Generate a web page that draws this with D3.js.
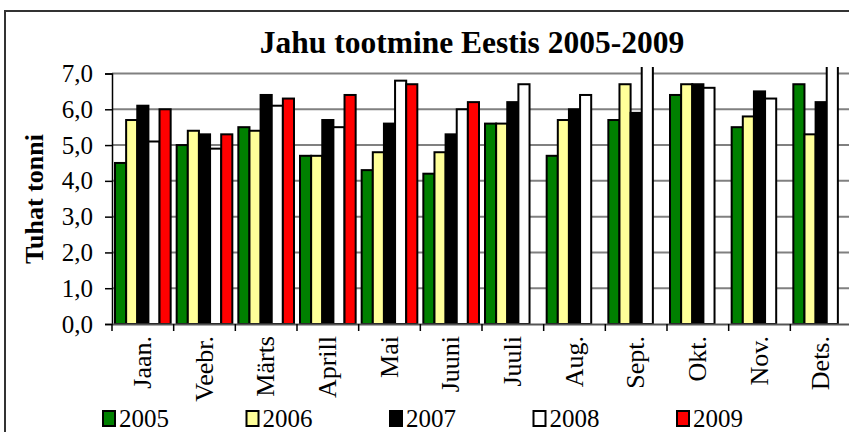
<!DOCTYPE html>
<html><head><meta charset="utf-8">
<script src="https://cdn.jsdelivr.net/npm/d3@7"></script>
<style>body{margin:0;background:#fff;}svg{display:block;}text{font-family:"Liberation Serif","Times New Roman",serif;}</style>
</head><body>
<svg id="c" width="849" height="432"></svg>
<script>
const months = ["Jaan.","Veebr.","Märts","Aprill","Mai","Juuni","Juuli","Aug.","Sept.","Okt.","Nov.","Dets."];
const years = ["2005","2006","2007","2008","2009"];
const colors = ["#008000","#FFFF99","#000000","#FFFFFF","#FF0000"];
const v2005 = [4.5,5.0,5.5,4.7,4.3,4.2,5.6,4.7,5.7,6.4,5.5,6.7];
const v2006 = [5.7,5.4,5.4,4.7,4.8,4.8,5.6,5.7,6.7,6.7,5.8,5.3];
const v2007 = [6.1,5.3,6.4,5.7,5.6,5.3,6.2,6.0,5.9,6.7,6.5,6.2];
const v2008 = [5.1,4.9,6.1,5.5,6.8,6.0,6.7,6.4,7.3,6.6,6.3,7.3];
const v2009 = [6.0,5.3,6.3,6.4,6.7,6.2,null,null,null,null,null,null];
const series = [v2005,v2006,v2007,v2008,v2009];
const yTicks = [0,1,2,3,4,5,6,7];
const title = "Jahu tootmine Eestis 2005-2009";
const yTitle = "Tuhat tonni";

const FONT = '"Liberation Serif","Times New Roman",serif';
const svg = d3.select("#c");
const pLeft = 112, pRight = 852, pTop = 73.5, pBottom = 324, clipTop = 67;

const x = d3.scaleBand().domain(months).range([pLeft, pRight]).paddingInner(0).paddingOuter(0);
const x1 = d3.scaleBand().domain(years).range([0, x.bandwidth()]).paddingInner(0).paddingOuter(0.27);
const y = d3.scaleLinear().domain([0,7]).range([pBottom, pTop]);

// outer frame
svg.append("rect").attr("x",5).attr("y",11).attr("width",900).attr("height",500)
  .attr("fill","none").attr("stroke","#333").attr("stroke-width",2);

// title
svg.append("text").attr("x",472).attr("y",53).attr("text-anchor","middle")
  .attr("font-family",FONT).attr("font-weight","bold").attr("font-size",31.5)
  .text(title);

// gridlines
svg.append("g").selectAll("line").data(yTicks.filter(d=>d>0)).join("line")
  .attr("x1",pLeft).attr("x2",860).attr("y1",d=>y(d)).attr("y2",d=>y(d))
  .attr("stroke","#808080").attr("stroke-width",2);

svg.append("defs").append("clipPath").attr("id","pc").append("rect")
  .attr("x",pLeft).attr("y",clipTop).attr("width",800).attr("height",pBottom-clipTop+2);

// bars
const g = svg.append("g").attr("clip-path","url(#pc)");
years.forEach((yr,i)=>{
  g.append("g").selectAll("rect").data(months.map((m,j)=>({m,v:series[i][j]})).filter(d=>d.v!=null))
   .join("rect")
   .attr("x",d=>x(d.m)+x1(yr)).attr("width",x1.bandwidth())
   .attr("y",d=>y(d.v)).attr("height",d=>pBottom-y(d.v))
   .attr("fill",colors[i]).attr("stroke","#000").attr("stroke-width",2);
});

// y axis
const ya = svg.append("g").attr("transform",`translate(${pLeft},0)`)
  .call(d3.axisLeft(y).tickValues(yTicks).tickSize(7).tickPadding(12)
    .tickFormat(d=>d3.format(".1f")(d).replace(".",",")));
ya.attr("font-family",FONT);
ya.select(".domain").attr("stroke","#000").attr("stroke-width",1.5);
ya.selectAll(".tick line").attr("stroke","#000").attr("stroke-width",1.5);
ya.selectAll("text").attr("font-family",FONT).attr("font-size",25).attr("fill","#000");

// x axis
const xa = svg.append("g").attr("transform",`translate(0,${pBottom})`)
  .call(d3.axisBottom(x).tickSize(0).tickFormat(""));
xa.select(".domain").attr("stroke","#555").attr("stroke-width",2);
svg.append("g").selectAll("line").data(months).join("line")
  .attr("x1",d=>x(d)).attr("x2",d=>x(d)).attr("y1",pBottom).attr("y2",pBottom+7)
  .attr("stroke","#000").attr("stroke-width",1.5);
svg.append("g").selectAll("text").data(months).join("text")
  .attr("transform",d=>`translate(${x(d)+x.bandwidth()/2+8},336) rotate(-90)`)
  .attr("text-anchor","end")
  .attr("font-family",FONT).attr("font-size",26).text(d=>d);

// y title
svg.append("text").attr("transform","translate(43,199) rotate(-90)").attr("text-anchor","middle")
  .attr("font-family",FONT).attr("font-weight","bold").attr("font-size",26).text(yTitle);

// legend
const lg = svg.append("g").selectAll("g").data(years).join("g")
  .attr("transform",(d,i)=>`translate(${103+i*143.5},411)`);
lg.append("rect").attr("width",12).attr("height",15).attr("fill",(d,i)=>colors[i])
  .attr("stroke","#000").attr("stroke-width",2);
lg.append("text").attr("x",16).attr("y",16).attr("font-family",FONT)
  .attr("font-size",25).text(d=>d);
</script>
</body></html>
